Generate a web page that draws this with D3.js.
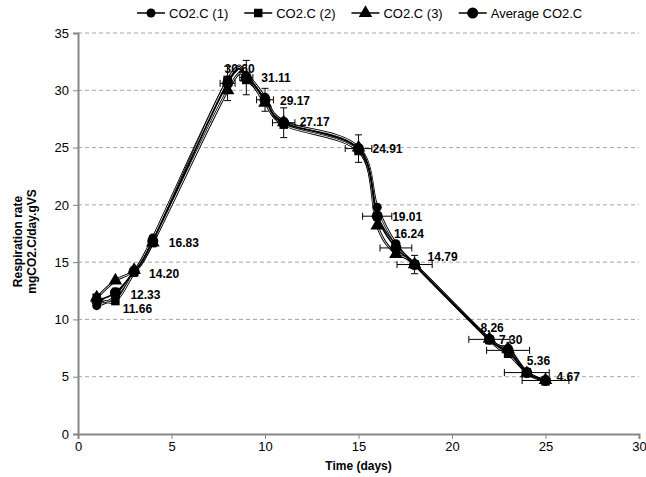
<!DOCTYPE html>
<html>
<head>
<meta charset="utf-8">
<script src="https://cdn.jsdelivr.net/npm/d3@7"></script>
<style>
  body { margin: 0; background: #fff; }
  text { font-family: "Liberation Sans", Arial, sans-serif; }
</style>
</head>
<body>
<div id="wrapper"></div>
<script>
// days sampled
const days = [1, 2, 3, 4, 8, 9, 10, 11, 15, 16, 17, 18, 22, 23, 24, 25];

// replicate runs
const series1 = [11.2, 12.0, 14.2, 17.1, 30.9, 31.3, 29.4, 27.3, 25.0, 19.8, 16.6, 14.8, 8.3, 7.5, 5.4, 4.7];
const series2 = [11.9, 11.6, 14.1, 16.7, 30.9, 30.9, 29.2, 27.0, 24.7, 19.0, 16.4, 14.8, 8.2, 7.0, 5.4, 4.6];
const series3 = [11.9, 13.4, 14.3, 16.7, 30.0, 31.1, 28.9, 27.2, 25.0, 18.2, 15.7, 14.8, 8.3, 7.4, 5.3, 4.7];
const average = [11.66, 12.33, 14.20, 16.83, 30.60, 31.11, 29.17, 27.17, 24.91, 19.01, 16.24, 14.79, 8.26, 7.30, 5.36, 4.67];

// error bars on the average
const yErr = [0.3, 0.4, 0.4, 0.5, 1.5, 1.5, 1.0, 1.3, 1.2, 0.3, 0.4, 0.8, 0.3, 0.3, 0.3, 0.3];
const xErr = [0, 0, 0, 0, 0.4, 0.35, 0.45, 0.6, 0.71, 0.78, 0.85, 0.94, 1.1, 1.15, 1.2, 1.25];

// data label nudges (px) relative to the point
const labelOffsets = [[26, 8], [15, 2], [15, 2], [16, 2], [-3, -15], [15, 0], [15, 1], [16, -1],
    [14, 0], [15, 1], [-2, -14], [13, -8], [-9, -12], [-9, -11], [0, -12], [11, -4]];

const yTicks = [0, 5, 10, 15, 20, 25, 30, 35];
const xTicks = [0, 5, 10, 15, 20, 25, 30];

const legendNames = ["CO2.C (1)", "CO2.C (2)", "CO2.C (3)", "Average CO2.C"];
const markerTypes = [d3.symbolCircle, d3.symbolSquare, d3.symbolTriangle, d3.symbolCircle];
const markerSizes = [64, 72, 80, 95];

let dimensions = {
    width: 646,
    height: 477,
    margin: { top: 33, right: 7, bottom: 43, left: 78 }
};
dimensions.bounded_width = dimensions.width - dimensions.margin.left - dimensions.margin.right;
dimensions.bounded_height = dimensions.height - dimensions.margin.top - dimensions.margin.bottom;

const svg = d3.select("#wrapper")
    .append("svg")
    .attr("width", dimensions.width)
    .attr("height", dimensions.height);

const bounds = svg.append("g")
    .attr("transform", `translate(${dimensions.margin.left},${dimensions.margin.top})`);

const xScale = d3.scaleLinear().domain([0, 30]).range([0, dimensions.bounded_width]);
const yScale = d3.scaleLinear().domain([0, 35]).range([dimensions.bounded_height, 0]);

// grid
bounds.append("g")
    .selectAll("line")
    .data(yTicks.filter(d => d > 0))
    .join("line")
    .attr("x1", 0)
    .attr("x2", dimensions.bounded_width)
    .attr("y1", d => yScale(d))
    .attr("y2", d => yScale(d))
    .attr("stroke", "#a6a6a6")
    .attr("stroke-dasharray", "4,3");

// axes
const xAxis = bounds.append("g")
    .attr("transform", `translate(0,${dimensions.bounded_height})`)
    .call(d3.axisBottom(xScale).tickValues(xTicks).tickSize(5).tickPadding(3));
const yAxis = bounds.append("g")
    .call(d3.axisLeft(yScale).tickValues(yTicks).tickSize(5).tickPadding(4));

[xAxis, yAxis].forEach(ax => {
    ax.select(".domain").attr("stroke", "#868686").attr("stroke-width", 2);
    ax.selectAll(".tick line").attr("stroke", "#868686");
    ax.selectAll(".tick text").attr("font-size", 13).attr("fill", "#000")
        .attr("font-family", "Liberation Sans, Arial, sans-serif");
});

// lines: replicates drawn as outlined strands, average as a solid line
const allSeries = [series1, series2, series3, average];
const line = d3.line()
    .x((d, i) => xScale(days[i]))
    .y(d => yScale(d))
    .curve(d3.curveCatmullRom.alpha(0));

[series1, series2, series3].forEach(s => {
    bounds.append("path")
        .datum(s)
        .attr("d", line)
        .attr("fill", "none")
        .attr("stroke", "#000")
        .attr("stroke-width", 2.6);
    bounds.append("path")
        .datum(s)
        .attr("d", line)
        .attr("fill", "none")
        .attr("stroke", "#fff")
        .attr("stroke-width", 0.9);
});
bounds.append("path")
    .datum(average)
    .attr("d", line)
    .attr("fill", "none")
    .attr("stroke", "#000")
    .attr("stroke-width", 1.6);

// error bars
const err = bounds.append("g").attr("stroke", "#000").attr("stroke-width", 1);
const cap = 3.5;
average.forEach((v, i) => {
    const cx = xScale(days[i]), cy = yScale(v);
    if (yErr[i] > 0) {
        const y1 = yScale(v - yErr[i]), y2 = yScale(v + yErr[i]);
        err.append("line").attr("x1", cx).attr("x2", cx).attr("y1", y1).attr("y2", y2);
        err.append("line").attr("x1", cx - cap).attr("x2", cx + cap).attr("y1", y1).attr("y2", y1);
        err.append("line").attr("x1", cx - cap).attr("x2", cx + cap).attr("y1", y2).attr("y2", y2);
    }
    if (xErr[i] > 0) {
        const x1 = xScale(days[i] - xErr[i]), x2 = xScale(days[i] + xErr[i]);
        err.append("line").attr("x1", x1).attr("x2", x2).attr("y1", cy).attr("y2", cy);
        err.append("line").attr("x1", x1).attr("x2", x1).attr("y1", cy - cap).attr("y2", cy + cap);
        err.append("line").attr("x1", x2).attr("x2", x2).attr("y1", cy - cap).attr("y2", cy + cap);
    }
});

// markers
allSeries.forEach((s, k) => {
    bounds.append("g")
        .selectAll("path")
        .data(s)
        .join("path")
        .attr("transform", (d, i) => `translate(${xScale(days[i])},${yScale(d)})`)
        .attr("d", d3.symbol().type(markerTypes[k]).size(markerSizes[k]))
        .attr("fill", "#000");
});

// data labels
bounds.append("g")
    .selectAll("text")
    .data(average)
    .join("text")
    .attr("x", (d, i) => xScale(days[i]) + labelOffsets[i][0])
    .attr("y", (d, i) => yScale(d) + labelOffsets[i][1])
    .attr("dy", "0.35em")
    .attr("font-size", 12)
    .attr("font-weight", "bold")
    .text(d => d3.format(".2f")(d));

// axis titles
svg.append("text")
    .attr("x", dimensions.margin.left + dimensions.bounded_width / 2)
    .attr("y", 470)
    .attr("text-anchor", "middle")
    .attr("font-size", 12)
    .attr("font-weight", "bold")
    .text("Time (days)");

const yTitle = svg.append("text")
    .attr("transform", `translate(22,${dimensions.margin.top + dimensions.bounded_height / 2 + 8}) rotate(-90)`)
    .attr("text-anchor", "middle")
    .attr("font-size", 12)
    .attr("font-weight", "bold");
yTitle.append("tspan").attr("x", 0).attr("y", 0).text("Respiration rate");
yTitle.append("tspan").attr("x", 0).attr("y", 14).text("mgCO2.C/day.gVS");

// legend
const legend = svg.append("g").attr("transform", "translate(137,13)");
let lx = 0;
legendNames.forEach((name, k) => {
    const item = legend.append("g").attr("transform", `translate(${lx},0)`);
    item.append("line").attr("x1", 0).attr("x2", 28).attr("y1", 0).attr("y2", 0)
        .attr("stroke", "#000").attr("stroke-width", 1.5);
    item.append("path").attr("transform", "translate(14,0)")
        .attr("d", d3.symbol().type(markerTypes[k]).size(markerSizes[k]))
        .attr("fill", "#000");
    const t = item.append("text").attr("x", 32).attr("dy", "0.35em")
        .attr("font-size", 13).text(name);
    lx += 32 + t.node().getComputedTextLength() + 16;
});
</script>
</body>
</html>
